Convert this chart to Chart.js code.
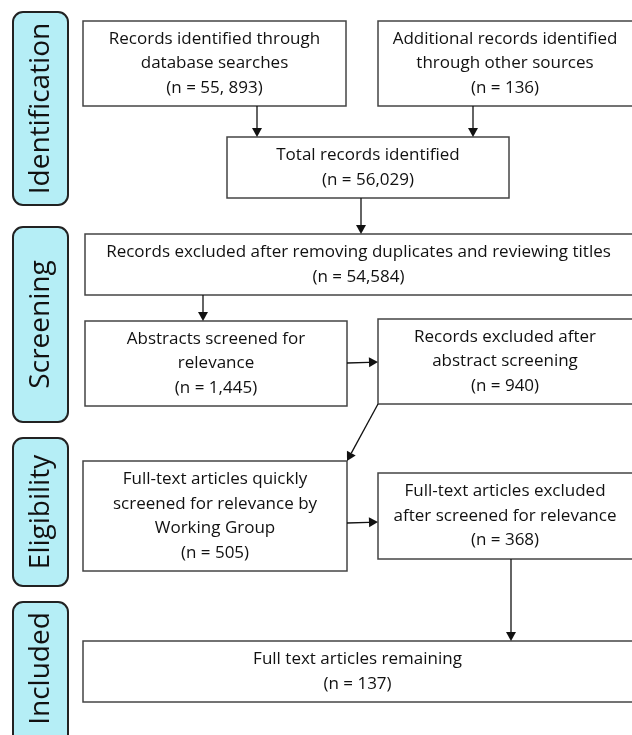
<!DOCTYPE html>
<html>
<head>
<meta charset="utf-8">
<script src="https://cdn.jsdelivr.net/npm/chart.js@4/dist/chart.umd.min.js"></script>
<style>
  body { margin: 0; background: #fff; }
  canvas { display: block; }
</style>
</head>
<body>
<canvas id="flow" width="632" height="735"></canvas>
<script>
// PRISMA stages and box contents
const stages = ['Identification', 'Screening', 'Eligibility', 'Included'];
const boxText = [
  ['Records identified through', 'database searches'],
  ['Additional records identified', 'through other sources'],
  ['Total records identified'],
  ['Records excluded after removing duplicates and reviewing titles'],
  ['Abstracts screened for', 'relevance'],
  ['Records excluded after', 'abstract screening'],
  ['Full-text articles quickly', 'screened for relevance by', 'Working Group'],
  ['Full-text articles excluded', 'after screened for relevance'],
  ['Full text articles remaining']
];
const boxCounts = ['55, 893', '136', '56,029', '54,584', '1,445', '940', '505', '368', '137'];

// layout (in diagram units, drawn through the chart scales)
const stageSpan = [[12, 205], [227, 422], [438, 586], [602, 760]];
const boxRect = [
  [83, 346, 21, 106], [378, 634, 21, 106], [227, 509, 137, 198],
  [85, 634, 234, 295], [85, 347, 321, 406], [378, 634, 319, 404],
  [83, 347, 461, 571], [378, 634, 473, 559], [83, 634, 641, 702]
];
const arrows = [
  [257, 106, 257, 137], [473, 106, 473, 137], [361, 198, 361, 234],
  [203, 295, 203, 321], [347, 363, 378, 362], [378, 404, 347, 461],
  [347, 523, 378, 522], [511, 559, 511, 641]
];

const font = '"Open Sans", "Noto Sans", sans-serif';

const flowPlugin = {
  id: 'flow',
  afterDraw(chart) {
    const { ctx } = chart;
    const sx = v => chart.scales.x.getPixelForValue(v);
    const sy = v => chart.scales.y.getPixelForValue(v);
    ctx.save();

    // stage labels
    stages.forEach((name, i) => {
      const [a, b] = stageSpan[i];
      const x0 = sx(13), x1 = sx(68), y0 = sy(a), y1 = sy(b);
      ctx.beginPath();
      ctx.roundRect(x0, y0, x1 - x0, y1 - y0, 10);
      ctx.fillStyle = '#b5eef6';
      ctx.fill();
      ctx.lineWidth = 2;
      ctx.strokeStyle = '#222';
      ctx.stroke();
      ctx.save();
      ctx.translate((x0 + x1) / 2, (sy(a) + sy(Math.min(b, 735))) / 2);
      ctx.rotate(-Math.PI / 2);
      ctx.fillStyle = '#111';
      ctx.font = '28px ' + font;
      ctx.textAlign = 'center';
      ctx.textBaseline = 'middle';
      ctx.fillText(name, 0, 1);
      ctx.restore();
    });

    // boxes
    boxRect.forEach((r, i) => {
      const x0 = sx(r[0]), x1 = sx(r[1]), y0 = sy(r[2]), y1 = sy(r[3]);
      ctx.fillStyle = '#fff';
      ctx.fillRect(x0, y0, x1 - x0, y1 - y0);
      ctx.lineWidth = 1.5;
      ctx.strokeStyle = '#444';
      ctx.strokeRect(x0, y0, x1 - x0, y1 - y0);
      const lines = boxText[i].concat(['(n = ' + boxCounts[i] + ')']);
      const lh = 24.5;
      const cy = (y0 + y1) / 2 - (lines.length - 1) * lh / 2;
      ctx.fillStyle = '#111';
      ctx.font = '17px ' + font;
      ctx.textAlign = 'center';
      ctx.textBaseline = 'middle';
      const cx = (x0 + Math.min(x1, sx(632))) / 2;
      lines.forEach((t, k) => ctx.fillText(t, cx, cy + k * lh));
    });

    // arrows
    arrows.forEach(a => {
      const x0 = sx(a[0]), y0 = sy(a[1]), x1 = sx(a[2]), y1 = sy(a[3]);
      const ang = Math.atan2(y1 - y0, x1 - x0);
      const hl = 9, hw = 5;
      ctx.strokeStyle = '#111';
      ctx.lineWidth = 1.3;
      ctx.beginPath();
      ctx.moveTo(x0, y0);
      ctx.lineTo(x1 - Math.cos(ang) * hl, y1 - Math.sin(ang) * hl);
      ctx.stroke();
      ctx.beginPath();
      ctx.moveTo(x1, y1);
      ctx.lineTo(x1 - Math.cos(ang) * hl - Math.sin(ang) * hw, y1 - Math.sin(ang) * hl + Math.cos(ang) * hw);
      ctx.lineTo(x1 - Math.cos(ang) * hl + Math.sin(ang) * hw, y1 - Math.sin(ang) * hl - Math.cos(ang) * hw);
      ctx.closePath();
      ctx.fillStyle = '#111';
      ctx.fill();
    });
    ctx.restore();
  }
};

new Chart(document.getElementById('flow'), {
  type: 'scatter',
  data: { datasets: [{ data: [] }] },
  options: {
    responsive: false,
    animation: false,
    layout: { padding: 0 },
    plugins: { legend: { display: false }, tooltip: { enabled: false } },
    scales: {
      x: { type: 'linear', min: 0, max: 632, display: false },
      y: { type: 'linear', min: 0, max: 735, reverse: true, display: false }
    }
  },
  plugins: [flowPlugin]
});
</script>
</body>
</html>
